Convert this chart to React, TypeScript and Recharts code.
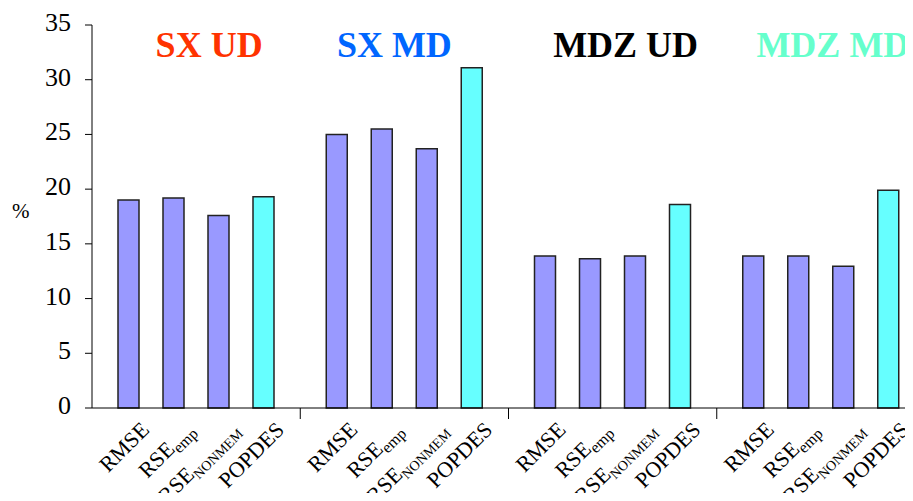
import { BarChart, Bar, XAxis, YAxis, LabelList } from 'recharts';

const groups = ['SX UD', 'SX MD', 'MDZ UD', 'MDZ MD'];
const rmse = [19.0, 25.0, 13.9, 13.9];
const rseEmp = [19.2, 25.5, 13.65, 13.9];
const rseNonmem = [17.6, 23.7, 13.9, 12.95];
const popdes = [19.3, 31.1, 18.6, 19.9];
const yTicks = [0, 5, 10, 15, 20, 25, 30, 35];

const titleColors = ['#FF3300', '#0066FF', '#000000', '#66FFCC'];
const titleShift = [13, -10, 13, 12];
const serif = '"Liberation Serif", "Times New Roman", serif';

const chartData = groups.map((g, i) => ({
  group: g,
  rmse: rmse[i],
  rseEmp: rseEmp[i],
  rseNonmem: rseNonmem[i],
  popdes: popdes[i],
}));

function TitleTick(props: any) {
  const { x, y, payload, index } = props;
  return (
    <text x={x + titleShift[index]} y={y + 32} textAnchor="middle" fontWeight="bold" style={{ fontFamily: serif, fontSize: 36 }} fill={titleColors[index]}>
      {payload.value}
    </text>
  );
}

function YTick(props: any) {
  const { x, y, payload } = props;
  return (
    <text x={x} y={y} dy={6} textAnchor="end" style={{ fontFamily: serif, fontSize: 26 }} fill="#000">
      {payload.value}
    </text>
  );
}

// tick marks between the groups, like excel does
function SepTick(props: any) {
  const { x, y, payload, index, visibleTicksCount } = props;
  if (index === visibleTicksCount - 1) return <g />;
  const sx = x + (payload.offset || 0);
  return <line x1={sx} y1={y} x2={sx} y2={y + 11} stroke="#000" />;
}

// rotated category label under each bar
function barLabel(main: string, sub?: string, subSize = 15) {
  return (props: any) => {
    const { x, y, width, height } = props;
    const bx = x + width / 2 + 22;
    const by = y + height + 23;
    return (
      <text x={bx} y={by} textAnchor="end" transform={`rotate(-45 ${bx} ${by})`} style={{ fontFamily: serif, fontSize: 22 }} fill="#000">
        <tspan>{main}</tspan>
        {sub && <tspan style={{ fontSize: subSize }} dy={5}>{sub}</tspan>}
      </text>
    );
  };
}

export default function App() {
  return (
    <div style={{ margin: -8, width: 913, height: 501, overflow: 'hidden', background: '#fff', fontFamily: serif }}>
      <BarChart width={925} height={501} data={chartData} margin={{ top: 24, right: 0, bottom: 0, left: 0 }} barSize={21} barGap={24}>
        <XAxis xAxisId="top" dataKey="group" orientation="top" height={1} axisLine={false} tickLine={false} tickSize={0} tickMargin={0} interval={0} tick={<TitleTick />} />
        <XAxis xAxisId="bot" dataKey="group" height={93} interval={0} tickLine={false} tickSize={0} tickMargin={0} axisLine={{ stroke: '#000' }} tick={<SepTick />} />
        <YAxis
          domain={[0, 35]}
          ticks={yTicks}
          width={92}
          tickSize={7}
          tickMargin={14}
          axisLine={{ stroke: '#000' }}
          tickLine={{ stroke: '#000' }}
          tick={<YTick />}
          label={{ value: '%', position: 'insideLeft', offset: 12, dy: -6, fill: '#000', fontSize: 21, style: { fontFamily: serif } }}
        />
        <Bar xAxisId="bot" dataKey="rmse" fill="#9999FF" stroke="#222" strokeWidth={1.5} isAnimationActive={false}>
          <LabelList dataKey="rmse" content={barLabel('RMSE')} />
        </Bar>
        <Bar xAxisId="bot" dataKey="rseEmp" fill="#9999FF" stroke="#222" strokeWidth={1.5} isAnimationActive={false}>
          <LabelList dataKey="rseEmp" content={barLabel('RSE', 'emp', 16)} />
        </Bar>
        <Bar xAxisId="bot" dataKey="rseNonmem" fill="#9999FF" stroke="#222" strokeWidth={1.5} isAnimationActive={false}>
          <LabelList dataKey="rseNonmem" content={barLabel('RSE', 'NONMEM', 14)} />
        </Bar>
        <Bar xAxisId="bot" dataKey="popdes" fill="#66FFFF" stroke="#222" strokeWidth={1.5} isAnimationActive={false}>
          <LabelList dataKey="popdes" content={barLabel('POPDES')} />
        </Bar>
      </BarChart>
    </div>
  );
}
